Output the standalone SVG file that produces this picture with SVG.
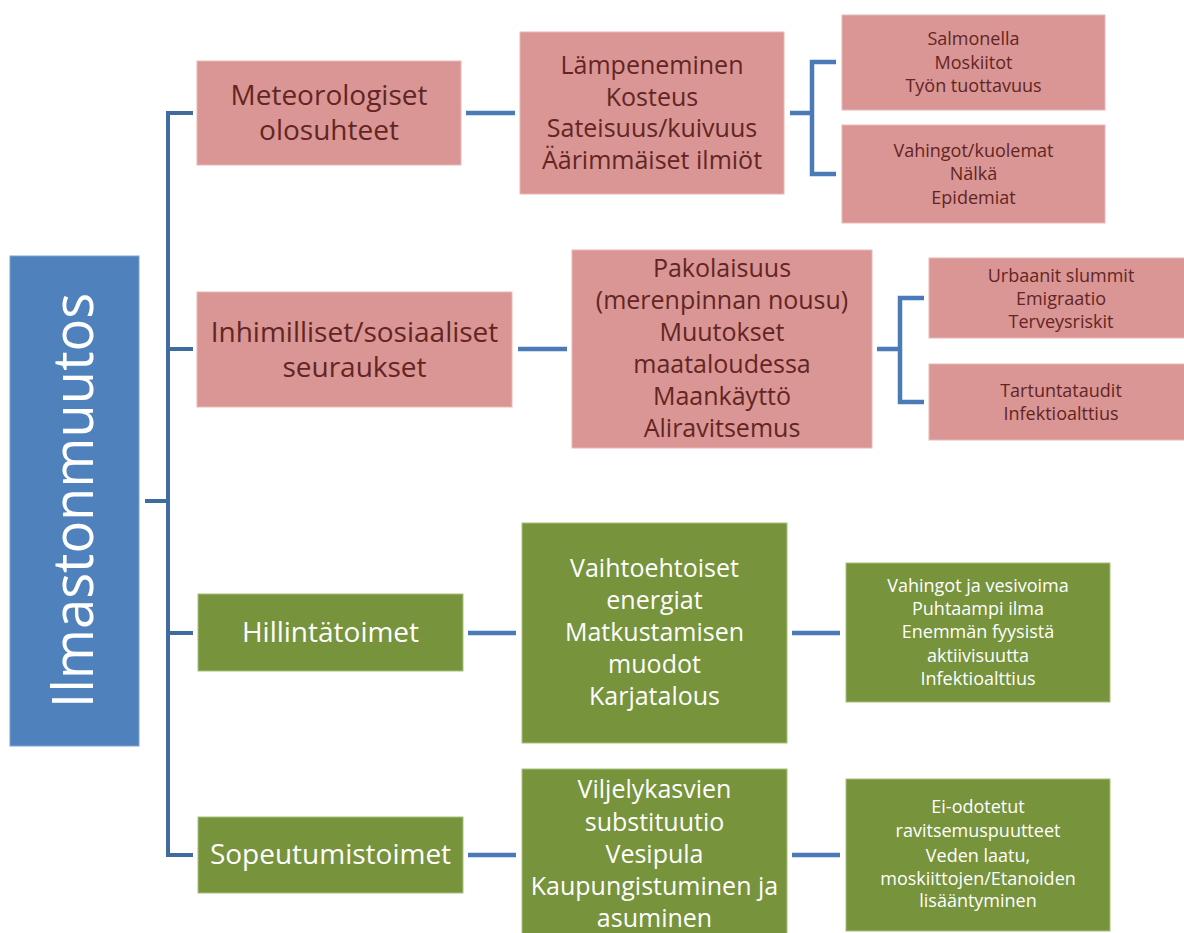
<svg xmlns="http://www.w3.org/2000/svg" width="1184" height="933" viewBox="0 0 1184 933">
<style>
text{font-family:"Open Sans","Liberation Sans",sans-serif;text-anchor:middle}
.pink{fill:#D99694;stroke:#E8B7B6;stroke-width:1}
.green{fill:#77933C;stroke:#A9C07A;stroke-width:1}
.main{fill:#4F81BD;stroke:#7FA2CF;stroke-width:1}
.dt{fill:#632523}
.wt{fill:#FFFFFF}
.tree{stroke:#3F6B9E;stroke-width:4;fill:none}
.conn{stroke:#4A7BB7;stroke-width:4.5;fill:none}
.f28{font-size:28px}
.f25{font-size:25px}
.f18{font-size:18px}
</style>
<rect width="1184" height="933" fill="#FFFFFF"/>
<g id="connectors">
<path class="tree" d="M145,501H168M168,111V857M168,113H193M168,349H193M168,633H193M168,855H193"/>
<path class="conn" d="M466,113H515M518,349H567M468,633H516M468,855H516M792,633H840M792,855H840"/>
<path class="conn" d="M790,113H812M836,62H812V174H836"/>
<path class="conn" d="M877,349H900M924,298H900V402H924"/>
</g>
<g id="ilmastonmuutos">
<rect class="main" x="10" y="256" width="129" height="490"/>
<text class="wt" transform="translate(93,500.5) rotate(-90)" font-size="57" textLength="415" lengthAdjust="spacingAndGlyphs">Ilmastonmuutos</text>
</g>
<g id="meteorologiset">
<rect class="pink" x="197" y="61" width="264" height="104"/>
<text class="dt f28"><tspan x="329" y="105">Meteorologiset</tspan><tspan x="329" y="140">olosuhteet</tspan></text>
</g>
<g id="inhimilliset">
<rect class="pink" x="197" y="292" width="315" height="115"/>
<text class="dt f28"><tspan x="354.5" y="342">Inhimilliset/sosiaaliset</tspan><tspan x="354.5" y="377">seuraukset</tspan></text>
</g>
<g id="hillintatoimet">
<rect class="green" x="198" y="594" width="265" height="77"/>
<text class="wt f28" x="330.5" y="642">Hillintätoimet</text>
</g>
<g id="sopeutumistoimet">
<rect class="green" x="198" y="817" width="265" height="76"/>
<text class="wt f28" x="330.5" y="864">Sopeutumistoimet</text>
</g>
<g id="lampeneminen">
<rect class="pink" x="520" y="32" width="264" height="162"/>
<text class="dt f25"><tspan x="652" y="74">Lämpeneminen</tspan><tspan x="652" y="106">Kosteus</tspan><tspan x="652" y="137">Sateisuus/kuivuus</tspan><tspan x="652" y="169">Äärimmäiset ilmiöt</tspan></text>
</g>
<g id="pakolaisuus">
<rect class="pink" x="572" y="250" width="300" height="198"/>
<text class="dt f25"><tspan x="722" y="277">Pakolaisuus</tspan><tspan x="722" y="309">(merenpinnan nousu)</tspan><tspan x="722" y="341">Muutokset</tspan><tspan x="722" y="373">maataloudessa</tspan><tspan x="722" y="405">Maankäyttö</tspan><tspan x="722" y="437">Aliravitsemus</tspan></text>
</g>
<g id="vaihtoehtoiset">
<rect class="green" x="522" y="523" width="265" height="220"/>
<text class="wt f25"><tspan x="654.5" y="577">Vaihtoehtoiset</tspan><tspan x="654.5" y="609">energiat</tspan><tspan x="654.5" y="641">Matkustamisen</tspan><tspan x="654.5" y="673">muodot</tspan><tspan x="654.5" y="705">Karjatalous</tspan></text>
</g>
<g id="viljelykasvien">
<rect class="green" x="522" y="769" width="265" height="170"/>
<text class="wt f25"><tspan x="654.5" y="798">Viljelykasvien</tspan><tspan x="654.5" y="831">substituutio</tspan><tspan x="654.5" y="863">Vesipula</tspan><tspan x="654.5" y="895">Kaupungistuminen ja</tspan><tspan x="654.5" y="927">asuminen</tspan></text>
</g>
<g id="salmonella">
<rect class="pink" x="842" y="15" width="263" height="95"/>
<text class="dt f18"><tspan x="973.5" y="45">Salmonella</tspan><tspan x="973.5" y="69">Moskiitot</tspan><tspan x="973.5" y="92">Työn tuottavuus</tspan></text>
</g>
<g id="vahingot-kuolemat">
<rect class="pink" x="842" y="125" width="263" height="98"/>
<text class="dt f18"><tspan x="973.5" y="157">Vahingot/kuolemat</tspan><tspan x="973.5" y="180">Nälkä</tspan><tspan x="973.5" y="204">Epidemiat</tspan></text>
</g>
<g id="urbaanit">
<rect class="pink" x="929" y="258" width="264" height="80"/>
<text class="dt f18"><tspan x="1061" y="282">Urbaanit slummit</tspan><tspan x="1061" y="305">Emigraatio</tspan><tspan x="1061" y="328">Terveysriskit</tspan></text>
</g>
<g id="tartuntataudit">
<rect class="pink" x="929" y="364" width="264" height="76"/>
<text class="dt f18"><tspan x="1061" y="397">Tartuntataudit</tspan><tspan x="1061" y="420">Infektioalttius</tspan></text>
</g>
<g id="vahingot-vesivoima">
<rect class="green" x="846" y="563" width="264" height="139"/>
<text class="wt f18"><tspan x="978" y="592">Vahingot ja vesivoima</tspan><tspan x="978" y="615">Puhtaampi ilma</tspan><tspan x="978" y="638">Enemmän fyysistä</tspan><tspan x="978" y="662">aktiivisuutta</tspan><tspan x="978" y="685">Infektioalttius</tspan></text>
</g>
<g id="ei-odotetut">
<rect class="green" x="846" y="779" width="264" height="152"/>
<text class="wt f18"><tspan x="978" y="813">Ei-odotetut</tspan><tspan x="978" y="837">ravitsemuspuutteet</tspan><tspan x="978" y="862">Veden laatu,</tspan><tspan x="978" y="885">moskiittojen/Etanoiden</tspan><tspan x="978" y="907">lisääntyminen</tspan></text>
</g>
</svg>
